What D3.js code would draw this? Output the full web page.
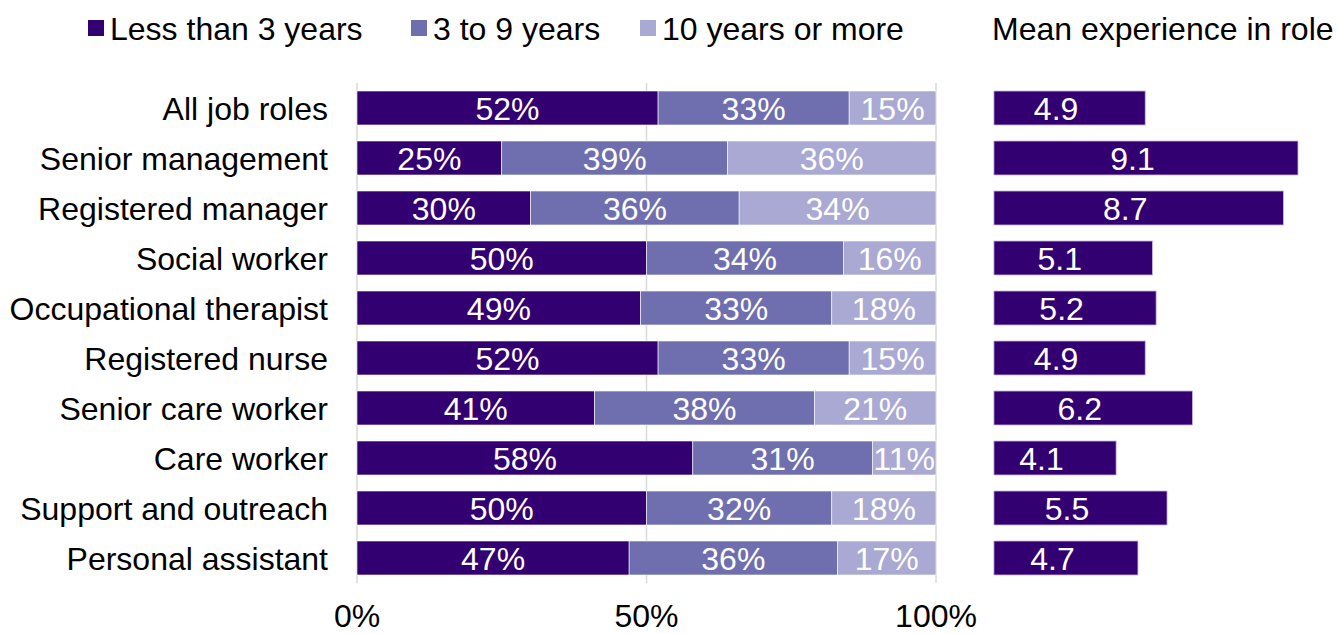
<!DOCTYPE html>
<html>
<head>
<meta charset="utf-8">
<script src="https://cdn.jsdelivr.net/npm/d3@7"></script>
<style>
  html, body { margin: 0; padding: 0; background: #fff; }
  svg { display: block; font-family: "Liberation Sans", Arial, sans-serif; }
</style>
</head>
<body>
<svg id="chart" width="1337" height="634"></svg>
<script>
const categories = ["All job roles","Senior management","Registered manager","Social worker","Occupational therapist","Registered nurse","Senior care worker","Care worker","Support and outreach","Personal assistant"];
const seriesNames = ["Less than 3 years","3 to 9 years","10 years or more"];
const lessThan3 = [52,25,30,50,49,52,41,58,50,47];
const threeTo9 = [33,39,36,34,33,33,38,31,32,36];
const tenPlus = [15,36,34,16,18,15,21,11,18,17];
const meanExperience = [4.9,9.1,8.7,5.1,5.2,4.9,6.2,4.1,5.5,4.7];
const pctTicks = [0,50,100];
const meanTitle = "Mean experience in role";

const colors = ["#330072","#6F6FAF","#A9A9D4"];
const svg = d3.select("#chart");
const FS = 32;

const y = d3.scaleBand().domain(categories).range([83, 583]).paddingInner(0.32).paddingOuter(0.16);
const x = d3.scaleLinear().domain([0,100]).range([357, 936]);
const xm = d3.scaleLinear().domain([0, 9.1]).range([967, 1298]);
const meanAxisMin = 0.74;

// gridlines
svg.append("g").selectAll("line").data(pctTicks).join("line")
  .attr("x1", d => x(d)).attr("x2", d => x(d))
  .attr("y1", 83).attr("y2", 583)
  .attr("stroke", "#D9D9D9").attr("stroke-width", 1.5);

// stacked data
const rows = categories.map((c,i) => ({cat:c, v:[lessThan3[i], threeTo9[i], tenPlus[i]]}));
const stack = d3.stack().keys([0,1,2]).value((d,k) => d.v[k]);
const stacked = stack(rows);

const g = svg.append("g");
stacked.forEach((layer, k) => {
  const lg = g.append("g");
  lg.selectAll("rect").data(layer).join("rect")
    .attr("x", d => x(d[0])).attr("width", d => x(d[1]) - x(d[0]))
    .attr("y", (d,i) => y(categories[i])).attr("height", y.bandwidth())
    .attr("fill", colors[k]).attr("stroke", "#fff").attr("stroke-width", 0.6);
  lg.selectAll("text").data(layer).join("text")
    .attr("x", d => (x(d[0]) + x(d[1])) / 2)
    .attr("y", (d,i) => y(categories[i]) + y.bandwidth()/2)
    .attr("dy", "0.36em").attr("text-anchor", "middle")
    .attr("fill", "#fff").attr("font-size", FS)
    .text(d => (d[1]-d[0]) + "%");
});

// category labels
svg.append("g").selectAll("text").data(categories).join("text")
  .attr("x", 328).attr("y", d => y(d) + y.bandwidth()/2).attr("dy", "0.36em")
  .attr("text-anchor", "end").attr("font-size", FS).attr("fill", "#000")
  .text(d => d);

// x tick labels
svg.append("g").selectAll("text").data(pctTicks).join("text")
  .attr("x", d => x(d)).attr("y", 627).attr("text-anchor", "middle")
  .attr("font-size", FS).attr("fill", "#000").text(d => d + "%");

// mean bars
const mg = svg.append("g");
mg.selectAll("rect").data(meanExperience).join("rect")
  .attr("x", xm(meanAxisMin)).attr("width", d => xm(d) - xm(meanAxisMin))
  .attr("y", (d,i) => y(categories[i])).attr("height", y.bandwidth())
  .attr("fill", colors[0]).attr("stroke", "#C9B8E6").attr("stroke-width", 0.8);
mg.selectAll("text").data(meanExperience).join("text")
  .attr("x", d => (xm(0) + xm(d)) / 2)
  .attr("y", (d,i) => y(categories[i]) + y.bandwidth()/2).attr("dy", "0.36em")
  .attr("text-anchor", "middle").attr("fill", "#fff").attr("font-size", FS)
  .text(d => d.toFixed(1));

// legend
const legendX = [88, 411, 640];
const lgd = svg.append("g");
seriesNames.forEach((n, k) => {
  lgd.append("rect").attr("x", legendX[k]).attr("y", 20).attr("width", 16).attr("height", 16).attr("fill", colors[k]);
  lgd.append("text").attr("x", legendX[k] + 22).attr("y", 28).attr("dy", "0.36em")
    .attr("font-size", FS).attr("fill", "#000").text(n);
});
svg.append("text").attr("x", 992).attr("y", 28).attr("dy", "0.36em")
  .attr("font-size", FS).attr("fill", "#000").text(meanTitle);
</script>
</body>
</html>
